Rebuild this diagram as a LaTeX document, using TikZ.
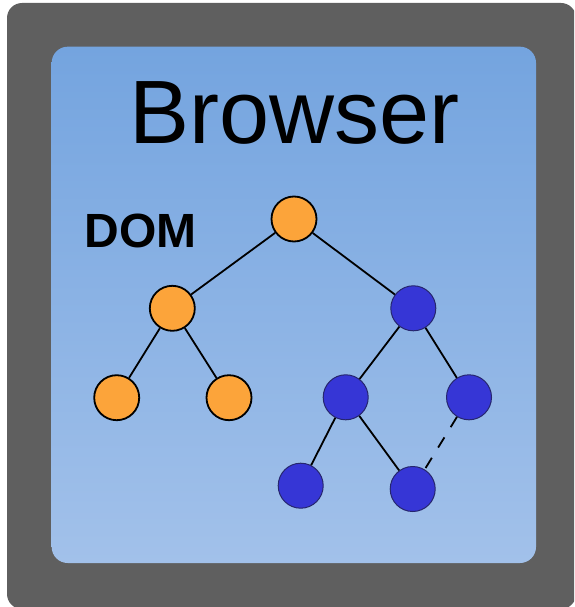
\documentclass[tikz,border=0pt]{standalone}
\usepackage{fontspec}
\setmainfont{Liberation Sans}
\definecolor{frame}{HTML}{5F5F5F}
\definecolor{paneltop}{HTML}{74A4DF}
\definecolor{panelbot}{HTML}{A2C1EA}
\definecolor{orangefill}{HTML}{FCA43A}
\definecolor{bluefill}{HTML}{3636D6}
\definecolor{blueline}{HTML}{26266E}
\tikzset{
  orangenode/.style={circle, minimum size=45pt, inner sep=0pt, fill=orangefill, draw=black, line width=1.8pt},
  bluenode/.style={circle, minimum size=45pt, inner sep=0pt, fill=bluefill, draw=blueline, line width=1pt},
  link/.style={draw=black, line width=1.8pt},
  weaklink/.style={link, dash pattern=on 12pt off 12pt}
}
\begin{document}
\begin{tikzpicture}[x=1pt,y=-1pt]
  \useasboundingbox (0,0) rectangle (574,607);
  \clip (0,0) rectangle (574,607);
  % outer frame and gradient panel
  \fill[frame, rounded corners=15pt] (7,3) rectangle (576,609);
  \shade[rounded corners=16pt, top color=paneltop, bottom color=panelbot]
    (51.7,46.7) rectangle (536,563);
  % titles
  \node[font=\fontsize{90}{90}\selectfont, anchor=base] (title) at (294.5,143.3) {Browser};
  \node[font=\fontsize{48}{48}\selectfont\bfseries, anchor=base west, inner sep=0pt] (dom) at (84.5,247.3) {DOM};
  % tree nodes
  \node[orangenode] (root) at (294,219) {};
  \node[orangenode] (ol)   at (172.3,308.3) {};
  \node[orangenode] (oll)  at (116.7,397.7) {};
  \node[orangenode] (olr)  at (229,397.7) {};
  \node[bluenode]   (br)   at (413.3,308.3) {};
  \node[bluenode]   (brl)  at (345.7,397.3) {};
  \node[bluenode]   (brr)  at (469,397.3) {};
  \node[bluenode]   (bll)  at (300.7,485.7) {};
  \node[bluenode]   (blr)  at (412.7,489) {};
  % connectors
  \draw[link] (root) -- (ol);
  \draw[link] (root) -- (br);
  \draw[link] (ol) -- (oll);
  \draw[link] (ol) -- (olr);
  \draw[link] (br) -- (brl);
  \draw[link] (br) -- (brr);
  \draw[link] (brl) -- (bll);
  \draw[link] (brl) -- (blr);
  \draw[weaklink] (brr) -- (blr);
\end{tikzpicture}
\end{document}
